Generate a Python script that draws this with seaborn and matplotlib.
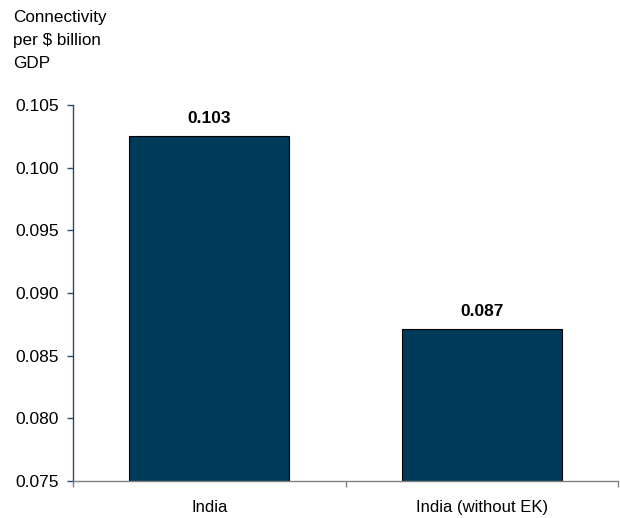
import matplotlib
matplotlib.use("Agg")
import matplotlib.pyplot as plt
import seaborn as sns
import pandas as pd

categories = ["India", "India (without EK)"]
values = [0.10255, 0.08715]
labels = ["0.103", "0.087"]
yticks = [0.075, 0.080, 0.085, 0.090, 0.095, 0.100, 0.105]

sns.set_style("white")
plt.rcParams["font.family"] = ["Liberation Sans", "DejaVu Sans"]
plt.rcParams["text.color"] = "black"
plt.rcParams["xtick.labelcolor"] = "black"
plt.rcParams["ytick.labelcolor"] = "black"

df = pd.DataFrame({"cat": categories, "val": values})

W, H = 620, 518
fig = plt.figure(figsize=(W / 100, H / 100), dpi=100)
left, right, top, bottom = 73, 618, 105, 481
ax = fig.add_axes([left / W, 1 - bottom / H, (right - left) / W, (bottom - top) / H])
sns.barplot(data=df, x="cat", y="val", color="#003a5a", width=0.587,
            edgecolor="black", linewidth=0.8, saturation=1, ax=ax)

ax.set_ylim(0.075, 0.105)
ax.set_xlim(-0.5, 1.5)
ax.set_yticks(yticks)
ax.set_yticklabels([f"{t:.3f}" for t in yticks], fontsize=12.5, color="black")
ax.set_xlabel("")
ax.set_ylabel("")
ax.tick_params(axis="x", which="major", length=0, labelsize=12, pad=14,
               labelcolor="black")
ax.set_xticks([-0.5, 0.5, 1.5], minor=True)
ax.tick_params(axis="x", which="minor", length=4, color="#808080", width=1.0,
               direction="out", bottom=True)
ax.tick_params(axis="y", length=4, color="#2a4a6a", width=1.0, direction="out",
               left=True, pad=6, labelcolor="black")

for s in ["top", "right"]:
    ax.spines[s].set_visible(False)
ax.spines["left"].set_color("#2a4a6a")
ax.spines["left"].set_linewidth(1.0)
ax.spines["bottom"].set_color("#808080")
ax.spines["bottom"].set_linewidth(1.0)

for i, (v, lab) in enumerate(zip(values, labels)):
    ax.annotate(lab, (i, v), xytext=(0, 7), textcoords="offset points",
                ha="center", va="bottom", fontsize=12.5, fontweight="bold",
                color="black")

fig.text(13 / W, 1 - 10 / H, "Connectivity\nper \\$ billion\nGDP", ha="left", va="top",
         fontsize=12.3, linespacing=1.65, color="black")

fig.savefig("out.png", dpi=100)
